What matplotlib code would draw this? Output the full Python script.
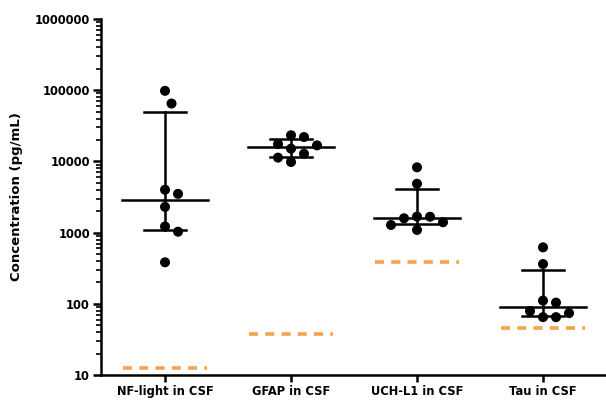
import numpy as np
import matplotlib
matplotlib.use("Agg")
import matplotlib.pyplot as plt
from matplotlib.ticker import FixedLocator, LogLocator, NullFormatter

# biomarker concentrations measured in CSF (pg/mL)
categories = ["NF-light in CSF", "GFAP in CSF", "UCH-L1 in CSF", "Tau in CSF"]
nfl = [98000, 65000, 4000, 3500, 2300, 1220, 1030, 383]
gfap = [23300, 22000, 17500, 16800, 15100, 12800, 11300, 9820]
uchl1 = [8260, 4860, 1680, 1670, 1590, 1400, 1280, 1090]
tau = [621, 362, 111, 104, 79, 74, 65, 65]
# lower limit of detection for each assay
lod = [12.4, 37.5, 390, 45.3]

yticks = [10, 100, 1000, 10000, 100000, 1000000]

groups = [nfl, gfap, uchl1, tau]
orange = "#F7A24C"
lw = 1.8

plt.rcParams["font.family"] = "DejaVu Sans"
plt.rcParams["font.weight"] = "bold"

fig = plt.figure(figsize=(6.06, 4.01), dpi=100)
ax = fig.add_axes([0.1667, 0.0648, 0.8333, 0.8878])
ax.set_yscale("log")
ax.set_ylim(10, 1000000)
ax.set_xlim(-0.508, 3.5)


def swarm_offsets(ax, xc, vals, dmin=13.0, step=6.5):
    # simple beeswarm in pixel space, returns x offsets in data units
    trans = ax.transData
    px_per_unit = trans.transform((1, 1))[0] - trans.transform((0, 1))[0]
    cands = [0] + [s * i for i in range(1, 12) for s in (1, -1)]
    placed = []
    offs = {}
    order = np.argsort(vals)[::-1]
    for i in order:
        py = trans.transform((xc, vals[i]))[1]
        for c in cands:
            px = c * step
            if all((px - qx) ** 2 + (py - qy) ** 2 >= dmin ** 2 for qx, qy in placed):
                break
        placed.append((px, py))
        offs[i] = px / px_per_unit
    return np.array([offs[i] for i in range(len(vals))])


for i, vals in enumerate(groups):
    vals = np.array(vals, dtype=float)
    med = np.median(vals)
    q1, q3 = np.percentile(vals, [25, 75], method="weibull")

    # detection limit
    ax.plot([i - 0.333, i + 0.333], [lod[i], lod[i]], color=orange, lw=2.6,
            dashes=(2.5, 2.0), dash_capstyle="butt", zorder=2)

    # median with interquartile range
    ax.plot([i - 0.34, i + 0.34], [med, med], color="black", lw=lw, zorder=3)
    ax.plot([i, i], [q1, q3], color="black", lw=lw, zorder=3)
    ax.plot([i - 0.17, i + 0.17], [q1, q1], color="black", lw=lw, zorder=3)
    ax.plot([i - 0.17, i + 0.17], [q3, q3], color="black", lw=lw, zorder=3)

    xs = i + swarm_offsets(ax, i, vals)
    ax.scatter(xs, vals, s=52, color="black", edgecolors="none", zorder=4)

ax.spines["top"].set_visible(False)
ax.spines["right"].set_visible(False)
ax.spines["left"].set_linewidth(lw)
ax.spines["bottom"].set_linewidth(lw)

ax.yaxis.set_major_locator(FixedLocator(yticks))
ax.set_yticklabels([str(t) for t in yticks])
ax.yaxis.set_minor_locator(LogLocator(base=10, subs=np.arange(2, 10)))
ax.yaxis.set_minor_formatter(NullFormatter())
ax.tick_params(axis="y", which="major", length=6, width=lw, pad=2, labelsize=8.3)
ax.tick_params(axis="y", which="minor", length=3.5, width=1.2)

ax.set_xticks(range(len(categories)))
ax.set_xticklabels(categories)
ax.tick_params(axis="x", which="major", length=5, width=lw, pad=2, labelsize=8.3)

ax.set_ylabel("Concentration (pg/mL)", fontsize=9.5, fontweight="bold")
ax.yaxis.set_label_coords(-0.155, 0.5)

fig.savefig("out.png", dpi=100)
